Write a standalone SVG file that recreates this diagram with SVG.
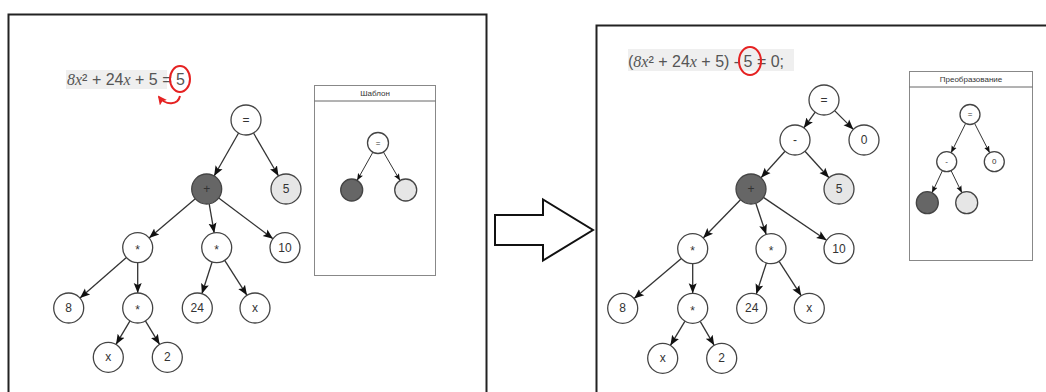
<svg xmlns="http://www.w3.org/2000/svg" width="1046" height="392" viewBox="0 0 1046 392">
<defs>
<marker id="ah" markerUnits="userSpaceOnUse" markerWidth="10" markerHeight="10" viewBox="0 0 10 10" refX="10" refY="5" orient="auto"><path d="M0,1 L10,5 L0,9 L2,5 Z" fill="#111"/></marker>
<marker id="ahs" markerUnits="userSpaceOnUse" markerWidth="7" markerHeight="7" viewBox="0 0 10 10" refX="10" refY="5" orient="auto"><path d="M0,1 L10,5 L0,9 L2,5 Z" fill="#111"/></marker>
<marker id="ahr" markerUnits="userSpaceOnUse" markerWidth="9" markerHeight="9" viewBox="0 0 10 10" refX="8" refY="5" orient="auto"><path d="M0,0 L10,5 L0,10 L2,5 Z" fill="#e52222"/></marker>
</defs>
<style>
.frame{fill:none;stroke:#222;stroke-width:2}
.n{fill:#fff;stroke:#444;stroke-width:1.3}
.dk{fill:#666;stroke:#444;stroke-width:1.3}
.lt{fill:#e6e6e6;stroke:#444;stroke-width:1.3}
.t{font-family:"Liberation Sans",Arial,sans-serif;font-size:12px;fill:#333;text-anchor:middle;dominant-baseline:central}
.ts{font-family:"Liberation Sans",Arial,sans-serif;font-size:8px;fill:#333;text-anchor:middle;dominant-baseline:central}
.e{fill:none;stroke:#333;stroke-width:1.3;marker-end:url(#ah)}
.es{fill:none;stroke:#333;stroke-width:1;marker-end:url(#ahs)}
.box{fill:#fff;stroke:#888;stroke-width:1}
.f{font-family:"Liberation Sans",Arial,sans-serif;font-size:16px;fill:#555}
.it{font-family:"Liberation Serif","Times New Roman",serif;font-style:italic}
.red{fill:none;stroke:#e52222;stroke-width:2}
</style>
<rect width="1046" height="392" fill="#fff"/>
<g id="frames">
<rect class="frame" x="8.5" y="14.5" width="478" height="400"/>
<rect class="frame" x="596.5" y="25.5" width="470" height="400"/>
</g>
<g id="block-arrow">
<polygon points="495,215 543,215 543,199.5 593,230 543,260.5 543,245 495,245" fill="#fff" stroke="#111" stroke-width="2" stroke-linejoin="miter"/>
</g>
<g id="formula-left">
<rect x="66" y="70" width="101" height="19" fill="#efefef"/>
<text class="f" x="67" y="85"><tspan class="it">8x</tspan>² + 24<tspan class="it">x</tspan> + 5 = 5</text>
<ellipse class="red" cx="180" cy="79" rx="10" ry="13"/>
<path class="red" d="M180,96 C178,105 166,106 159,97" stroke-width="2.3" marker-end="url(#ahr)"/>
</g>
<g id="formula-right">
<rect x="628" y="49" width="166" height="22" fill="#efefef"/>
<text class="f" x="628" y="67">(<tspan class="it">8x</tspan>² + 24<tspan class="it">x</tspan> + 5) - 5 = 0;</text>
<ellipse class="red" cx="750" cy="61" rx="11" ry="14"/>
</g>
<g id="template-box">
<rect class="box" x="314.5" y="85.5" width="121" height="190"/>
<line x1="314.5" y1="101" x2="435.5" y2="101" stroke="#666" stroke-width="1"/>
<text class="ts" x="375" y="93.5">Шаблон</text>
</g>
<g id="transform-box">
<rect class="box" x="909.5" y="71.5" width="123" height="189"/>
<line x1="909.5" y1="87" x2="1032.5" y2="87" stroke="#666" stroke-width="1"/>
<text class="ts" x="971" y="79.5">Преобразование</text>
</g>
<g id="connectors">
<path class="e" d="M238.6,133 L214.1,176"/>
<path class="e" d="M253.5,133 L278.5,176"/>
<path class="e" d="M195.3,198.7 L149.1,238"/>
<path class="e" d="M209.2,203.8 L214.2,232.9"/>
<path class="e" d="M218.7,198 L273,238.7"/>
<path class="e" d="M126.4,257.6 L80,298.1"/>
<path class="e" d="M137.7,262.7 L137.7,293"/>
<path class="e" d="M212.1,262 L201.9,293.7"/>
<path class="e" d="M224.7,260.4 L247,295.3"/>
<path class="e" d="M130,320.9 L116,344.4"/>
<path class="e" d="M145.4,320.9 L159.6,344.4"/>
<path class="es" d="M372.9,152.2 L357.1,180.4"/>
<path class="es" d="M383.4,152 L400,180.6"/>
<path class="e" d="M815.2,112.1 L803.8,127.9"/>
<path class="e" d="M834.6,110.6 L853.4,129.4"/>
<path class="e" d="M785,151.2 L761,177.8"/>
<path class="e" d="M805,151.2 L829,177.8"/>
<path class="e" d="M740.5,199.7 L703.2,238"/>
<path class="e" d="M755.8,203.2 L766.2,234.5"/>
<path class="e" d="M763.4,197.4 L826.6,240.3"/>
<path class="e" d="M681.3,258.4 L634.1,298.6"/>
<path class="e" d="M692.7,263.7 L692.7,293.3"/>
<path class="e" d="M766.4,263 L756.3,294"/>
<path class="e" d="M779.1,261.3 L801.2,295.7"/>
<path class="e" d="M685,321.2 L670.4,345.4"/>
<path class="e" d="M700.2,321.3 L714.2,345.3"/>
<path class="es" d="M965.6,123.5 L951.1,152.7"/>
<path class="es" d="M974.6,123.4 L989.7,152.8"/>
<path class="es" d="M942.4,170.7 L932,192.8"/>
<path class="es" d="M951.1,170.7 L961.9,192.8"/>
</g>
<g id="left-tree">
<g id="L-eq"><circle class="n" cx="246" cy="120" r="15"/><text class="t" x="246" y="120">=</text></g>
<g id="L-plus"><circle class="dk" cx="206.7" cy="189" r="15"/><text class="t" x="206.7" y="189">+</text></g>
<g id="L-5"><circle class="lt" cx="286" cy="189" r="15"/><text class="t" x="286" y="189">5</text></g>
<g id="L-mul1"><circle class="n" cx="137.7" cy="247.7" r="15"/><text class="t" x="137.7" y="250">*</text></g>
<g id="L-mul2"><circle class="n" cx="216.7" cy="247.7" r="15"/><text class="t" x="216.7" y="250">*</text></g>
<g id="L-10"><circle class="n" cx="285" cy="247.7" r="15"/><text class="t" x="285" y="247.7">10</text></g>
<g id="L-8"><circle class="n" cx="68.7" cy="308" r="15"/><text class="t" x="68.7" y="308">8</text></g>
<g id="L-mul3"><circle class="n" cx="137.7" cy="308" r="15"/><text class="t" x="137.7" y="310.3">*</text></g>
<g id="L-24"><circle class="n" cx="197.3" cy="308" r="15"/><text class="t" x="197.3" y="308">24</text></g>
<g id="L-x1"><circle class="n" cx="255" cy="308" r="15"/><text class="t" x="255" y="308">x</text></g>
<g id="L-x2"><circle class="n" cx="108.3" cy="357.3" r="15"/><text class="t" x="108.3" y="357.3">x</text></g>
<g id="L-2"><circle class="n" cx="167.3" cy="357.3" r="15"/><text class="t" x="167.3" y="357.3">2</text></g>
</g>
<g id="template">
<g id="T-eq"><circle class="n" cx="378" cy="143" r="10.5" stroke-width="1"/><text class="ts" x="378" y="143">=</text></g>
<g id="T-dark"><circle class="dk" cx="351.7" cy="190" r="11" stroke-width="1"/></g>
<g id="T-light"><circle class="lt" cx="405.7" cy="190" r="11" stroke-width="1"/></g>
</g>
<g id="right-tree">
<g id="R-eq"><circle class="n" cx="824" cy="100" r="15"/><text class="t" x="824" y="100">=</text></g>
<g id="R-minus"><circle class="n" cx="795" cy="140" r="15"/><text class="t" x="795" y="140">-</text></g>
<g id="R-0"><circle class="n" cx="864" cy="140" r="15"/><text class="t" x="864" y="140">0</text></g>
<g id="R-plus"><circle class="dk" cx="751" cy="189" r="15"/><text class="t" x="751" y="189">+</text></g>
<g id="R-5"><circle class="lt" cx="839" cy="189" r="15"/><text class="t" x="839" y="189">5</text></g>
<g id="R-mul1"><circle class="n" cx="692.7" cy="248.7" r="15"/><text class="t" x="692.7" y="251">*</text></g>
<g id="R-mul2"><circle class="n" cx="771" cy="248.7" r="15"/><text class="t" x="771" y="251">*</text></g>
<g id="R-10"><circle class="n" cx="839" cy="248.7" r="15"/><text class="t" x="839" y="248.7">10</text></g>
<g id="R-8"><circle class="n" cx="622.7" cy="308.3" r="15"/><text class="t" x="622.7" y="308.3">8</text></g>
<g id="R-mul3"><circle class="n" cx="692.7" cy="308.3" r="15"/><text class="t" x="692.7" y="310.6">*</text></g>
<g id="R-24"><circle class="n" cx="751.7" cy="308.3" r="15"/><text class="t" x="751.7" y="308.3">24</text></g>
<g id="R-x1"><circle class="n" cx="809.3" cy="308.3" r="15"/><text class="t" x="809.3" y="308.3">x</text></g>
<g id="R-x2"><circle class="n" cx="662.7" cy="358.3" r="15"/><text class="t" x="662.7" y="358.3">x</text></g>
<g id="R-2"><circle class="n" cx="721.7" cy="358.3" r="15"/><text class="t" x="721.7" y="358.3">2</text></g>
</g>
<g id="transform">
<g id="P-eq"><circle class="n" cx="970" cy="114.5" r="10" stroke-width="1"/><text class="ts" x="970" y="114.5">=</text></g>
<g id="P-minus"><circle class="n" cx="946.7" cy="161.7" r="10" stroke-width="1"/><text class="ts" x="946.7" y="161.7">-</text></g>
<g id="P-0"><circle class="n" cx="994.3" cy="161.7" r="10" stroke-width="1"/><text class="ts" x="994.3" y="161.7">0</text></g>
<g id="P-dark"><circle class="dk" cx="927.3" cy="202.7" r="11" stroke-width="1"/></g>
<g id="P-light"><circle class="lt" cx="966.7" cy="202.7" r="11" stroke-width="1"/></g>
</g>
</svg>
